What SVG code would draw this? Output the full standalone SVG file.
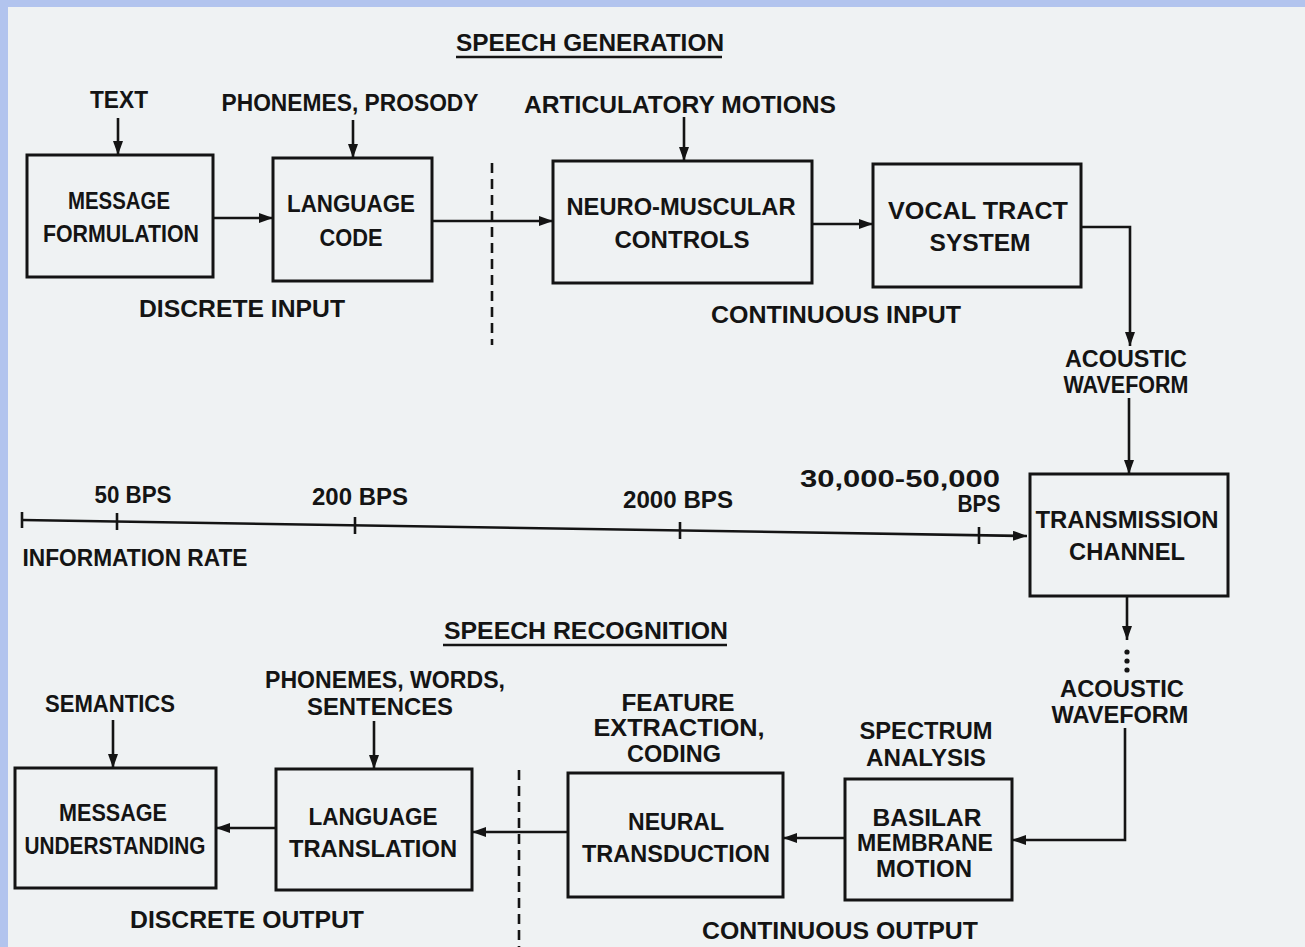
<svg xmlns="http://www.w3.org/2000/svg" width="1305" height="947" viewBox="0 0 1305 947">
<defs>
<style>
text{font-family:"Liberation Sans",Arial,sans-serif;font-weight:bold;font-size:23px;fill:#141414;text-anchor:middle}
.box{fill:none;stroke:#141414;stroke-width:3}
.ln{fill:none;stroke:#141414;stroke-width:2.6}
.dash{fill:none;stroke:#141414;stroke-width:2.6;stroke-dasharray:10 6}
</style>
<marker id="ah" viewBox="0 0 14 10" refX="14" refY="5" markerWidth="14" markerHeight="10" markerUnits="userSpaceOnUse" orient="auto">
<path d="M0,0 L14,5 L0,10 Z" fill="#141414"/>
</marker>
</defs>
<rect x="0" y="0" width="1305" height="947" fill="#EFF2F3"/>
<rect x="0" y="0" width="1305" height="7" fill="#B2C4EE"/>
<rect x="0" y="0" width="8" height="947" fill="#B2C4EE"/>

<g id="titles">
<text x="590" y="51" textLength="268" lengthAdjust="spacingAndGlyphs">SPEECH GENERATION</text>
<line class="ln" x1="456" y1="57" x2="722" y2="57"/>
<text x="586" y="639" textLength="284" lengthAdjust="spacingAndGlyphs">SPEECH RECOGNITION</text>
<line class="ln" x1="443" y1="645" x2="727" y2="645"/>
</g>

<g id="labels">
<text x="119" y="108" textLength="58" lengthAdjust="spacingAndGlyphs">TEXT</text>
<text x="350" y="111" textLength="257" lengthAdjust="spacingAndGlyphs">PHONEMES, PROSODY</text>
<text x="680" y="113" textLength="312" lengthAdjust="spacingAndGlyphs">ARTICULATORY MOTIONS</text>
<text x="242" y="317" textLength="206" lengthAdjust="spacingAndGlyphs">DISCRETE INPUT</text>
<text x="836" y="323" textLength="250" lengthAdjust="spacingAndGlyphs">CONTINUOUS INPUT</text>
<text x="1126" y="367" textLength="122" lengthAdjust="spacingAndGlyphs">ACOUSTIC</text>
<text x="1126" y="393" textLength="125" lengthAdjust="spacingAndGlyphs">WAVEFORM</text>
<text x="1122" y="697" textLength="124" lengthAdjust="spacingAndGlyphs">ACOUSTIC</text>
<text x="1120" y="723" textLength="137" lengthAdjust="spacingAndGlyphs">WAVEFORM</text>
<text x="385" y="688" textLength="240" lengthAdjust="spacingAndGlyphs">PHONEMES, WORDS,</text>
<text x="380" y="715" textLength="146" lengthAdjust="spacingAndGlyphs">SENTENCES</text>
<text x="110" y="712" textLength="130" lengthAdjust="spacingAndGlyphs">SEMANTICS</text>
<text x="678" y="711" textLength="113" lengthAdjust="spacingAndGlyphs">FEATURE</text>
<text x="679" y="736" textLength="171" lengthAdjust="spacingAndGlyphs">EXTRACTION,</text>
<text x="674" y="762" textLength="94" lengthAdjust="spacingAndGlyphs">CODING</text>
<text x="926" y="739" textLength="133" lengthAdjust="spacingAndGlyphs">SPECTRUM</text>
<text x="926" y="766" textLength="120" lengthAdjust="spacingAndGlyphs">ANALYSIS</text>
<text x="247" y="928" textLength="234" lengthAdjust="spacingAndGlyphs">DISCRETE OUTPUT</text>
<text x="840" y="939" textLength="276" lengthAdjust="spacingAndGlyphs">CONTINUOUS OUTPUT</text>
</g>

<g id="rate-scale">
<text x="133" y="503" textLength="77" lengthAdjust="spacingAndGlyphs">50 BPS</text>
<text x="360" y="505" textLength="96" lengthAdjust="spacingAndGlyphs">200 BPS</text>
<text x="678" y="508" textLength="110" lengthAdjust="spacingAndGlyphs">2000 BPS</text>
<text x="900" y="487" textLength="200" lengthAdjust="spacingAndGlyphs">30,000-50,000</text>
<text x="979" y="512" textLength="43" lengthAdjust="spacingAndGlyphs">BPS</text>
<text x="135" y="566" textLength="225" lengthAdjust="spacingAndGlyphs">INFORMATION RATE</text>
</g>

<g id="message-formulation">
<rect class="box" x="27" y="155" width="186" height="122"/>
<text x="119" y="209" textLength="102" lengthAdjust="spacingAndGlyphs">MESSAGE</text>
<text x="121" y="242" textLength="156" lengthAdjust="spacingAndGlyphs">FORMULATION</text>
</g>
<g id="language-code">
<rect class="box" x="273" y="158" width="159" height="123"/>
<text x="351" y="212" textLength="128" lengthAdjust="spacingAndGlyphs">LANGUAGE</text>
<text x="351" y="246" textLength="63" lengthAdjust="spacingAndGlyphs">CODE</text>
</g>
<g id="neuro-muscular-controls">
<rect class="box" x="553" y="161" width="259" height="122"/>
<text x="681" y="215" textLength="229" lengthAdjust="spacingAndGlyphs">NEURO-MUSCULAR</text>
<text x="682" y="248" textLength="135" lengthAdjust="spacingAndGlyphs">CONTROLS</text>
</g>
<g id="vocal-tract-system">
<rect class="box" x="873" y="164" width="208" height="123"/>
<text x="978" y="219" textLength="180" lengthAdjust="spacingAndGlyphs">VOCAL TRACT</text>
<text x="980" y="251" textLength="101" lengthAdjust="spacingAndGlyphs">SYSTEM</text>
</g>
<g id="transmission-channel">
<rect class="box" x="1030" y="474" width="198" height="122"/>
<text x="1127" y="528" textLength="183" lengthAdjust="spacingAndGlyphs">TRANSMISSION</text>
<text x="1127" y="560" textLength="116" lengthAdjust="spacingAndGlyphs">CHANNEL</text>
</g>
<g id="basilar-membrane-motion">
<rect class="box" x="845" y="779" width="167" height="121"/>
<text x="927" y="826" textLength="109" lengthAdjust="spacingAndGlyphs">BASILAR</text>
<text x="925" y="851" textLength="136" lengthAdjust="spacingAndGlyphs">MEMBRANE</text>
<text x="924" y="877" textLength="96" lengthAdjust="spacingAndGlyphs">MOTION</text>
</g>
<g id="neural-transduction">
<rect class="box" x="568" y="773" width="215" height="124"/>
<text x="676" y="830" textLength="96" lengthAdjust="spacingAndGlyphs">NEURAL</text>
<text x="676" y="862" textLength="188" lengthAdjust="spacingAndGlyphs">TRANSDUCTION</text>
</g>
<g id="language-translation">
<rect class="box" x="276" y="769" width="196" height="121"/>
<text x="373" y="825" textLength="129" lengthAdjust="spacingAndGlyphs">LANGUAGE</text>
<text x="373" y="857" textLength="168" lengthAdjust="spacingAndGlyphs">TRANSLATION</text>
</g>
<g id="message-understanding">
<rect class="box" x="15" y="768" width="201" height="120"/>
<text x="113" y="821" textLength="108" lengthAdjust="spacingAndGlyphs">MESSAGE</text>
<text x="115" y="854" textLength="181" lengthAdjust="spacingAndGlyphs">UNDERSTANDING</text>
</g>

<g id="connectors">
<line class="ln" x1="118" y1="118" x2="118" y2="155" marker-end="url(#ah)"/>
<line class="ln" x1="353" y1="120" x2="353" y2="158" marker-end="url(#ah)"/>
<line class="ln" x1="684" y1="117" x2="684" y2="161" marker-end="url(#ah)"/>
<line class="ln" x1="213" y1="218" x2="273" y2="218" marker-end="url(#ah)"/>
<line class="ln" x1="432" y1="221" x2="553" y2="221" marker-end="url(#ah)"/>
<line class="ln" x1="812" y1="224" x2="873" y2="224" marker-end="url(#ah)"/>
<path class="ln" d="M1081,227 H1130 V346" marker-end="url(#ah)"/>
<line class="ln" x1="1129" y1="398" x2="1129" y2="474" marker-end="url(#ah)"/>
<line class="dash" x1="492" y1="163" x2="492" y2="345"/>
<line class="ln" x1="22" y1="520" x2="1027" y2="536" marker-end="url(#ah)"/>
<line class="ln" x1="22" y1="512" x2="22" y2="528"/>
<line class="ln" x1="117" y1="513" x2="117" y2="530"/>
<line class="ln" x1="355" y1="517" x2="355" y2="534"/>
<line class="ln" x1="680" y1="522" x2="680" y2="539"/>
<line class="ln" x1="979" y1="527" x2="979" y2="544"/>
<line class="ln" x1="1127" y1="596" x2="1127" y2="640" marker-end="url(#ah)"/>
<circle cx="1127" cy="652" r="2.6" fill="#141414"/>
<circle cx="1127" cy="661" r="2.6" fill="#141414"/>
<circle cx="1127" cy="670" r="2.6" fill="#141414"/>
<path class="ln" d="M1125,728 V840 H1012" marker-end="url(#ah)"/>
<line class="ln" x1="845" y1="838" x2="783" y2="838" marker-end="url(#ah)"/>
<line class="ln" x1="568" y1="832" x2="472" y2="832" marker-end="url(#ah)"/>
<line class="ln" x1="276" y1="828" x2="216" y2="828" marker-end="url(#ah)"/>
<line class="ln" x1="113" y1="720" x2="113" y2="768" marker-end="url(#ah)"/>
<line class="ln" x1="374" y1="721" x2="374" y2="769" marker-end="url(#ah)"/>
<line class="dash" x1="519" y1="770" x2="519" y2="947"/>
</g>
</svg>
